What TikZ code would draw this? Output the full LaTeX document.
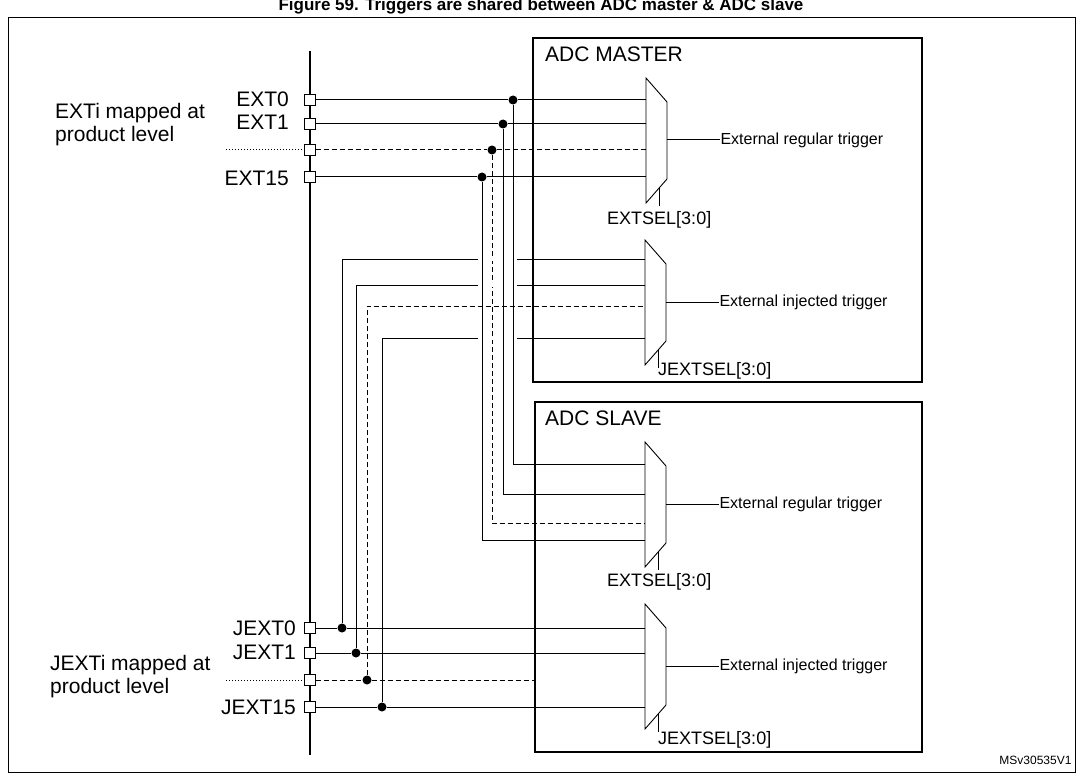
\documentclass[tikz,border=0pt]{standalone}
\usepackage{fontspec}
\setmainfont{Liberation Sans}
\usetikzlibrary{positioning}
\tikzset{pin/.style={draw,fill=white,rectangle,minimum size=11pt,inner sep=0pt,line width=0.8pt},
dot/.style={circle,fill,inner sep=0pt,minimum size=9pt},
lbl/.style={font=\fontsize{21}{23}\selectfont,inner sep=0pt},
sel/.style={font=\fontsize{18}{20}\selectfont,inner sep=0pt,anchor=north west},
small/.style={font=\fontsize{16}{18}\selectfont,inner sep=0pt,anchor=west},
wire/.style={line width=1pt},
dwire/.style={line width=1pt,dash pattern=on 5pt off 3pt}}
% mux: left x, top y, name
\newcommand{\muxbox}[3]{%
\draw[line width=0.9pt] (#1,#2) -- (#1+21,#2+24) -- (#1+21,#2+101) -- (#1,#2+125) -- cycle;
\coordinate (#3) at (#1,#2);
\coordinate (#3-out) at (#1+21,#2+62);
\draw[line width=0.9pt] (#1+13,#2+110) -- (#1+13,#2+128);}
\begin{document}
\begin{tikzpicture}[x=1pt,y=-1pt]
\useasboundingbox (0,0) rectangle (1082,773);
\node[font=\bfseries\fontsize{17}{19}\selectfont,anchor=center] at (541,6) {Figure 59. Triggers are shared between ADC master \& ADC slave};
\draw[line width=1pt] (8,18) rectangle (1075,772);
% bus
\draw[line width=1.6pt] (310,51) -- (310,755);
% ADC boxes
\draw[line width=1.8pt] (533,38) rectangle (922,382);
\draw[line width=1.8pt] (535,402) rectangle (922,752);
\node[lbl,anchor=north west] at (545,47) {ADC MASTER};
\node[lbl,anchor=north west] at (545,411) {ADC SLAVE};
% muxes
\muxbox{646}{78}{m1}
\muxbox{645}{240}{m2}
\muxbox{645}{442}{s1}
\muxbox{645}{604}{s2}
\foreach \m/\t in {m1/External regular trigger,m2/External injected trigger,s1/External regular trigger,s2/External injected trigger}{
\draw[wire] (\m-out) -- ++(53,0) node[small] {\t};}
\node[sel] at (607,211) {EXTSEL[3:0]};
\node[sel] at (658,362) {JEXTSEL[3:0]};
\node[sel] at (607,573) {EXTSEL[3:0]};
\node[sel] at (658,731) {JEXTSEL[3:0]};
% EXT wires
\foreach \n/\y/\xd/\ys/\st in {e0/100/513/464/wire,e1/124/503/494/wire,e2/150/492/523/dwire,e3/177/482/540/wire}{
\node[pin] (\n) at (310,\y) {};
\node[dot] (\n d) at (\xd,\y) {};
\draw[\st] (\n) -- (\n d) -- (646,\y);
\draw[\st] (\n d) |- (645,\ys);}
% JEXT wires
\foreach \n/\y/\xd/\ym/\st in {j0/628/342/259/wire,j1/653/356/285/wire,j2/680/367/306/dwire,j3/707/382/338/wire}{
\node[pin] (\n) at (310,\y) {};
\node[dot] (\n d) at (\xd,\y) {};
\draw[\st] (\n) -- (\n d);
\draw[\st] (\n d) |- (645,\ym);}
\foreach \n in {j0,j1,j3}{\draw[wire] (\n d) -- (\n d -| 645,0);}
\draw[dwire] (j2d) -- (535,680);
% gaps where master injected wires cross EXT verticals
\foreach \y in {259,285,338}{\fill[white] (478,\y-2) rectangle (517,\y+2);}
\draw[wire] (513,250) -- (513,350);
\draw[wire] (503,250) -- (503,350);
\draw[wire] (482,250) -- (482,350);
% left labels
\node[lbl,anchor=east] at (289,99) {EXT0};
\node[lbl,anchor=east] at (289,122) {EXT1};
\node[lbl,anchor=east] at (289,178) {EXT15};
\node[lbl,anchor=east] at (296,628) {JEXT0};
\node[lbl,anchor=east] at (296,652) {JEXT1};
\node[lbl,anchor=east] at (296,707) {JEXT15};
\node[lbl,anchor=west,align=left] at (55,125) {EXTi mapped at\\product level};
\node[lbl,anchor=west,align=left] at (50,677) {JEXTi mapped at\\product level};
\draw[line width=1pt,dotted] (226,150) -- (e2);
\draw[line width=1pt,dotted] (226,680) -- (j2);
\node[font=\fontsize{12}{14}\selectfont,anchor=east] at (1075,760) {MSv30535V1};
\end{tikzpicture}
\end{document}
